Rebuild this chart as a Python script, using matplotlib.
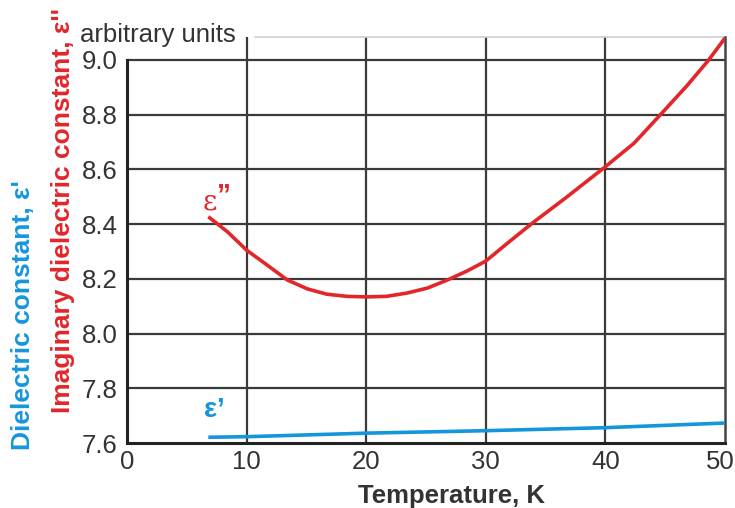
import matplotlib
matplotlib.use("Agg")
import matplotlib.pyplot as plt
from matplotlib.transforms import ScaledTranslation

plt.rcParams['font.family'] = ['Liberation Sans', 'DejaVu Sans']

# Data
temp_red = [6.8, 8.4, 10, 11.7, 13.4, 15.1, 16.7, 18.4, 20, 21.7, 23.4, 25.1, 26.8, 28.4, 30,
            31.8, 33.9, 36.8, 40, 42.4, 44.6, 46.8, 48.6, 50]
eps_imag = [8.427, 8.372, 8.305, 8.251, 8.196, 8.163, 8.144, 8.136, 8.134, 8.136, 8.148, 8.166,
            8.196, 8.228, 8.265, 8.33, 8.404, 8.50, 8.61, 8.696, 8.80, 8.905, 8.998, 9.08]
temp_blue = [6.8, 10, 20, 30, 40, 50]
eps_real = [7.621, 7.623, 7.636, 7.645, 7.656, 7.673]

xticks = [0, 10, 20, 30, 40, 50]
yticks = [7.6, 7.8, 8.0, 8.2, 8.4, 8.6, 8.8, 9.0]
ytick_labels = ["7.6", "7.8", "8.0", "8.2", "8.4", "8.6", "8.8", "9.0"]

RED = "#e2262a"
BLUE = "#1596dc"
GRID = "#3a3a3a"
TXT = "#333333"
FS = 18.5

fig = plt.figure(figsize=(7.35, 5.08), dpi=100)
ax = fig.add_axes([127/735, 1-443/508, (725-127)/735, (443-37)/508])

ax.set_xlim(0, 50)
ax.set_ylim(7.6, 9.084)

ax.set_xticks(xticks)
ax.set_yticks(yticks)
ax.set_yticklabels(ytick_labels)
ax.tick_params(length=0, labelsize=FS, labelcolor=TXT)
ax.tick_params(axis='y', pad=7)
ax.tick_params(axis='x', pad=5)
# keep the last x label inside the canvas like the reference
last = ax.get_xticklabels()[-1]
last.set_transform(last.get_transform() + ScaledTranslation(-5/100, 0, fig.dpi_scale_trans))

for v in [10, 20, 30, 40]:
    ax.axvline(v, color=GRID, lw=1.6, zorder=1)
for v in yticks[1:]:
    ax.axhline(v, color=GRID, lw=1.6, zorder=1)

ax.spines['top'].set_visible(False)
ax.spines['left'].set_color("#222222")
ax.spines['left'].set_linewidth(2.2)
ax.spines['left'].set_bounds(7.6, 9.0)
ax.spines['bottom'].set_color("#222222")
ax.spines['bottom'].set_linewidth(2.2)
ax.spines['right'].set_color("#444444")
ax.spines['right'].set_linewidth(1.8)

# light top rule
ax.plot([(255-127)/598, 1], [1, 1], transform=ax.transAxes, color="#d0d0d0", lw=1.2, clip_on=False)

ax.plot(temp_red, eps_imag, color=RED, lw=2.6, zorder=3, solid_capstyle='butt', solid_joinstyle='round')
ax.plot(temp_blue, eps_real, color=BLUE, lw=2.6, zorder=3, solid_capstyle='butt')

ax.text(6.3, 8.48, "ε", color=RED, fontsize=20, ha='left', va='center', family=['DejaVu Serif'])
ax.text(7.55, 8.505, "\u201d", color=RED, fontsize=20, fontweight='bold', ha='left', va='center')
ax.text(6.4, 7.72, "ε\u2019", color=BLUE, fontsize=20, fontweight='bold', ha='left', va='center')

ax.set_xlabel("Temperature, K", fontsize=FS, fontweight='bold', color=TXT)
ax.xaxis.set_label_coords((452-127)/598, -0.10)

fig.text(80/735, 1-35/508, "arbitrary units", fontsize=FS, color=TXT, ha='left', va='center')
fig.text(63/735, 1-211/508, "Imaginary dielectric constant, ε''", rotation=90, fontsize=19,
         fontweight='bold', color=RED, ha='center', va='center')
fig.text(23/735, 1-315/508, "Dielectric constant, ε'", rotation=90, fontsize=19,
         fontweight='bold', color=BLUE, ha='center', va='center')

fig.savefig("out.png", dpi=100)
